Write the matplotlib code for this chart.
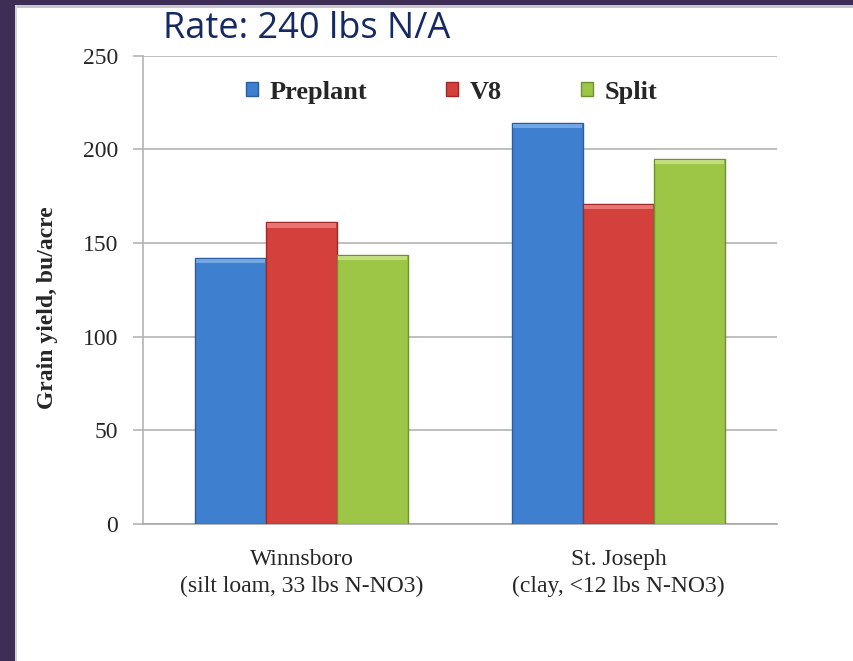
import matplotlib
matplotlib.use("Agg")
import matplotlib.pyplot as plt
import numpy as np
from matplotlib.patches import Rectangle

# Data
sites = ["Winnsboro\n(silt loam, 33 lbs N-NO3)", "St. Joseph\n(clay, <12 lbs N-NO3)"]
series_names = ["Preplant", "V8", "Split"]
preplant = [142, 214]
v8 = [161, 171]
split = [143.5, 195]
yticks = [0, 50, 100, 150, 200, 250]

face_colors = ["#3f7fd0", "#d4403c", "#9ec646"]
edge_colors = ["#2a5c9e", "#9c2a27", "#6f9130"]
top_colors = ["#7fb0ea", "#ee8380", "#c9e58a"]

W, H = 854, 661
fig = plt.figure(figsize=(W / 100, H / 100), dpi=100)
fig.patch.set_facecolor("white")

# Slide frame: purple band on the left and top, with a soft grey rim
purple = "#3e2d55"
fig.add_artist(Rectangle((0, 0), 15 / W, 1, transform=fig.transFigure,
                         facecolor=purple, edgecolor="none", zorder=0))
fig.add_artist(Rectangle((0, 1 - 5 / H), 1, 5 / H, transform=fig.transFigure,
                         facecolor=purple, edgecolor="none", zorder=0))
fig.add_artist(Rectangle((15 / W, 1 - 8 / H), 1, 3 / H, transform=fig.transFigure,
                         facecolor="#c8c8cc", edgecolor="none", zorder=0))
fig.add_artist(Rectangle((15 / W, 0), 2 / W, 1 - 5 / H, transform=fig.transFigure,
                         facecolor="#d4d4d8", edgecolor="none", zorder=0))

ax = fig.add_axes([143 / W, 1 - 524 / H, (777 - 143) / W, (524 - 55.6) / H])
ax.set_facecolor("white")

x = np.arange(len(sites))
width = 0.224
offsets = [-width, 0, width]
all_series = [preplant, v8, split]

handles = []
for vals, off, fc, ec, tc, name in zip(all_series, offsets, face_colors,
                                       edge_colors, top_colors, series_names):
    vals = np.asarray(vals, dtype=float)
    b = ax.bar(x + off, vals, width, color=fc, edgecolor=ec, linewidth=1.0,
               zorder=3, label=name)
    # bevel highlight along the top of each bar
    bevel = 2.2
    ax.bar(x + off, np.full_like(vals, bevel), width * 0.97, bottom=vals - bevel - 0.6,
           color=tc, edgecolor="none", linewidth=0, zorder=4, alpha=0.8)
    handles.append(b)

ax.set_xlim(-0.5, 1.5)
ax.set_ylim(0, 250)
ax.set_yticks(yticks)
ax.set_yticklabels([str(t) for t in yticks])
ax.set_xticks(x)
ax.set_xticklabels(sites)

ax.yaxis.grid(True, color="#b4b4b4", linewidth=1.2, zorder=0)
ax.set_axisbelow(True)

for side in ["top", "right"]:
    ax.spines[side].set_visible(False)
ax.spines["left"].set_color("#b4b4b4")
ax.spines["left"].set_linewidth(1.2)
ax.spines["bottom"].set_color("#a8a8a8")
ax.spines["bottom"].set_linewidth(1.2)

serif = ["Liberation Serif", "DejaVu Serif"]
ax.tick_params(axis="y", length=7, width=1.2, color="#b4b4b4", pad=11,
               labelsize=17, labelcolor="#262626")
ax.tick_params(axis="x", length=0, pad=18, labelsize=17, labelcolor="#262626")
for lab in ax.get_yticklabels() + ax.get_xticklabels():
    lab.set_family(serif)
for lab in ax.get_xticklabels():
    lab.set_linespacing(1.38)

ax.set_ylabel("Grain yield, bu/acre", family=serif, fontweight="bold",
              fontsize=17, color="#262626")
ax.yaxis.set_label_coords(-0.134, 0.461)

leg = ax.legend(handles=handles, labels=series_names, loc="center",
                bbox_to_anchor=(0.487, 0.922), ncol=3, frameon=False,
                prop={"family": serif, "weight": "bold", "size": 19},
                handlelength=0.45, handleheight=0.45, handletextpad=0.45,
                columnspacing=3.0, borderaxespad=0)
for t in leg.get_texts():
    t.set_color("#262626")

fig.text(163 / W, 1 - 38 / H, "Rate: 240 lbs N/A", ha="left", va="baseline",
         fontsize=26, fontweight="medium", color="#152a63",
         family=["Open Sans", "DejaVu Sans"])

fig.savefig("out.png", dpi=100, facecolor=fig.get_facecolor())
